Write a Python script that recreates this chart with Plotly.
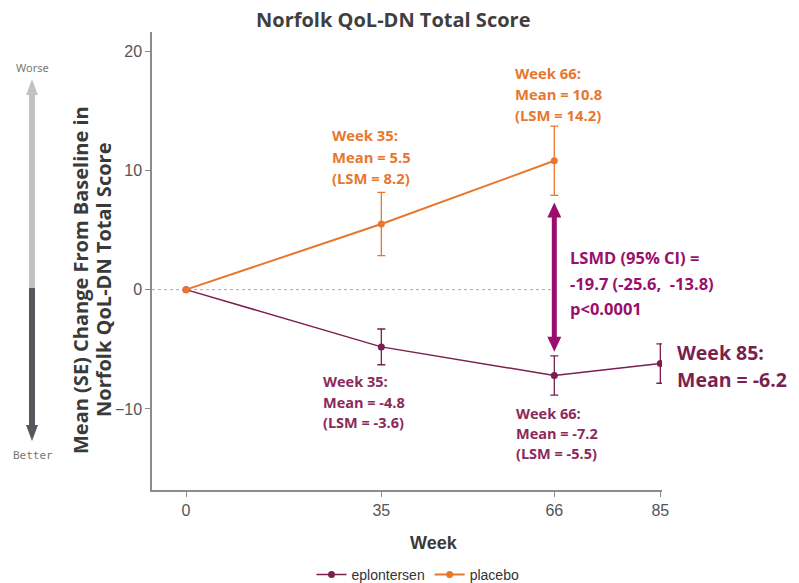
import plotly.graph_objects as go

# ---------------- data ----------------
weeks_eplo = [0, 35, 66, 85]
mean_eplo = [0, -4.8, -7.2, -6.2]
se_eplo = [0, 1.5, 1.65, 1.65]

weeks_plac = [0, 35, 66]
mean_plac = [0, 5.5, 10.8]
se_plac = [0, 2.65, 2.9]

x_ticks = [0, 35, 66, 85]
y_ticks = [-10, 0, 10, 20]

lsmd_week = 66
lsmd_top = 7.3
lsmd_bottom = -5.2

# ---------------- styling ----------------
W, H = 799, 583
L, R, T, B = 152, 137, 32, 93
XR = [-6.1, 85.3]
YR = [-16.8, 21.6]

ORANGE = "#E8772E"
PURPLE = "#7B1E50"
PURPLE_TXT = "#8A2A5C"
MAGENTA = "#9A0F6C"
FONT = "Open Sans"


def px(x):
    return (x - L) / (W - L - R)


def py(y):
    return (H - B - y) / (H - T - B)


fig = go.Figure()

fig.add_trace(go.Scatter(
    x=weeks_eplo, y=mean_eplo, name="eplontersen", mode="lines+markers",
    line=dict(color=PURPLE, width=1.5), marker=dict(color=PURPLE, size=7),
    error_y=dict(type="data", array=se_eplo, color=PURPLE, thickness=1.3, width=4),
))
fig.add_trace(go.Scatter(
    x=weeks_plac, y=mean_plac, name="placebo", mode="lines+markers",
    line=dict(color=ORANGE, width=2), marker=dict(color=ORANGE, size=7),
    error_y=dict(type="data", array=se_plac, color=ORANGE, thickness=1.3, width=4),
))

shapes = []
# dotted zero line
shapes.append(dict(type="line", xref="x", yref="y", x0=XR[0], x1=lsmd_week, y0=0, y1=0,
                   line=dict(color="#a8a8a8", width=1, dash="dot"), layer="below"))

# LSMD double arrow (data coords)
hw = 1.25  # half width of head in weeks
hh = 1.25  # head height in y units
shapes.append(dict(type="line", xref="x", yref="y", x0=lsmd_week, x1=lsmd_week,
                   y0=lsmd_bottom + hh * 0.5, y1=lsmd_top - hh * 0.5,
                   line=dict(color=MAGENTA, width=5)))
shapes.append(dict(type="path", xref="x", yref="y",
                   path=f"M {lsmd_week} {lsmd_top} L {lsmd_week - hw} {lsmd_top - hh} L {lsmd_week + hw} {lsmd_top - hh} Z",
                   fillcolor=MAGENTA, line=dict(width=0)))
shapes.append(dict(type="path", xref="x", yref="y",
                   path=f"M {lsmd_week} {lsmd_bottom} L {lsmd_week - hw} {lsmd_bottom + hh} L {lsmd_week + hw} {lsmd_bottom + hh} Z",
                   fillcolor=MAGENTA, line=dict(width=0)))

# Worse / Better arrow at left (paper coords)
ax = px(32)
ahw = 6 / (W - L - R)
shapes.append(dict(type="line", xref="paper", yref="paper", x0=ax, x1=ax, y0=py(92), y1=py(288),
                   line=dict(color="#c2c2c2", width=6)))
shapes.append(dict(type="path", xref="paper", yref="paper",
                   path=f"M {ax} {py(79)} L {ax - ahw} {py(95)} L {ax + ahw} {py(95)} Z",
                   fillcolor="#c2c2c2", line=dict(width=0)))
shapes.append(dict(type="line", xref="paper", yref="paper", x0=ax, x1=ax, y0=py(288), y1=py(428),
                   line=dict(color="#55585d", width=6)))
shapes.append(dict(type="path", xref="paper", yref="paper",
                   path=f"M {ax} {py(441)} L {ax - ahw} {py(425)} L {ax + ahw} {py(425)} Z",
                   fillcolor="#55585d", line=dict(width=0)))

annotations = []


def add_lines(lines, x_left, ys, color, size):
    for t, y in zip(lines, ys):
        annotations.append(dict(text=t, xref="paper", yref="paper", x=px(x_left), y=py(y),
                                xanchor="left", yanchor="middle", showarrow=False,
                                font=dict(family=FONT, size=size, color=color, weight="bold")))


add_lines(["Week 35:", "Mean = 5.5", "(LSM = 8.2)"], 330, [135, 157, 178], ORANGE, 14.8)
add_lines(["Week 66:", "Mean = 10.8", "(LSM = 14.2)"], 513, [73, 94, 115], ORANGE, 14.8)
add_lines(["LSMD (95% CI) =", "-19.7 (-25.6,  -13.8)", "p<0.0001"], 568, [257, 283, 308], MAGENTA, 16.5)
add_lines(["Week 35:", "Mean = -4.8", "(LSM = -3.6)"], 321, [381, 402, 422], PURPLE_TXT, 14.5)
add_lines(["Week 66:", "Mean = -7.2", "(LSM = -5.5)"], 514, [413, 433, 453], PURPLE_TXT, 14.5)
add_lines(["Week 85:", "Mean = -6.2"], 675, [352, 379], PURPLE, 19.5)

# title
annotations.append(dict(text="Norfolk QoL-DN Total Score", xref="paper", yref="paper",
                        x=px(393), y=py(20), xanchor="center", yanchor="middle", showarrow=False,
                        font=dict(family=FONT, size=20, color="#3f3f3f", weight="bold")))
# y title (two lines)
for t, xc in [("Mean (SE) Change From Baseline in", 80), ("Norfolk QoL-DN Total Score", 103)]:
    annotations.append(dict(text=t, xref="paper", yref="paper", x=px(xc), y=py(280),
                            xanchor="center", yanchor="middle", showarrow=False, textangle=-90,
                            font=dict(family=FONT, size=20, color="#3a3a3a", weight="bold")))
# x title
annotations.append(dict(text="Week", xref="paper", yref="paper", x=px(434), y=py(543),
                        xanchor="center", yanchor="middle", showarrow=False,
                        font=dict(family="Liberation Sans", size=18, color="#3a3a3a", weight="bold")))
# Worse / Better
annotations.append(dict(text="Worse", xref="paper", yref="paper", x=px(32), y=py(67),
                        xanchor="center", yanchor="middle", showarrow=False,
                        font=dict(family="Noto Sans", size=11, color="#777777")))
annotations.append(dict(text="Better", xref="paper", yref="paper", x=px(33), y=py(455),
                        xanchor="center", yanchor="middle", showarrow=False,
                        font=dict(family="DejaVu Sans Mono", size=11, color="#777777")))

fig.update_layout(
    width=W, height=H, margin=dict(l=L, r=R, t=T, b=B, autoexpand=False),
    paper_bgcolor="white", plot_bgcolor="white",
    shapes=shapes, annotations=annotations,
    showlegend=True,
    legend=dict(orientation="h", x=px(418), y=py(575), xanchor="center", yanchor="middle",
                font=dict(family="Liberation Sans", size=14, color="#333333"),
                itemwidth=30, tracegroupgap=0),
    xaxis=dict(range=XR, tickvals=x_ticks, showgrid=False, zeroline=False, showline=True,
               linecolor="#8c8c8c", linewidth=1.5, ticks="outside", ticklen=5, tickcolor="#8c8c8c",
               tickfont=dict(family="Liberation Sans", size=16, color="#555555")),
    yaxis=dict(range=YR, tickvals=y_ticks, showgrid=False, zeroline=False, showline=True,
               linecolor="#8c8c8c", linewidth=1.5, ticks="outside", ticklen=5, tickcolor="#8c8c8c",
               tickfont=dict(family="Liberation Sans", size=16, color="#555555")),
)

fig.write_html("out.html", config={"displayModeBar": False},
               post_script="document.body.style.margin='0px';")
